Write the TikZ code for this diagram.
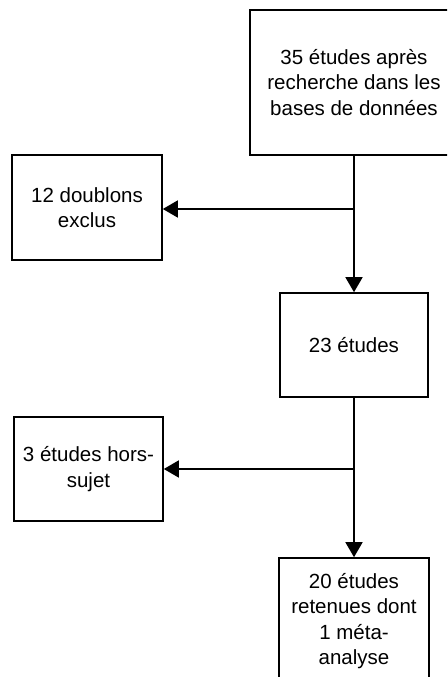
\documentclass[tikz,border=0pt]{standalone}
\usepackage{fontspec}
\setmainfont{Liberation Sans}
\usetikzlibrary{arrows.meta}

\begin{document}
\begin{tikzpicture}[x=1pt,y=-1pt,
        etape/.style={draw,rectangle,line width=1.6pt,inner sep=0pt,align=center,
            font=\fontsize{20.5}{25.5}\selectfont},
        fleche/.style={line width=1.6pt,-{Triangle[length=15pt,width=17pt]}}]

        \useasboundingbox (0,0) rectangle (447,677);
        \clip (0,0) rectangle (447,677);

        \node[etape,minimum width=208pt,minimum height=145pt] (recherche) at (354,82.5) {35 études après\\recherche dans les\\bases de données};
        \node[etape,minimum width=150pt,minimum height=105pt] (doublons) at (87,207.5) {12 doublons\\exclus};
        \node[etape,minimum width=148pt,minimum height=104pt] (etudes) at (354,345) {23 études};
        \node[etape,minimum width=149pt,minimum height=104pt] (horssujet) at (88.5,469) {3 études hors-\\sujet};
        \node[etape,minimum width=150pt,minimum height=126pt] (retenues) at (354,621) {20 études\\retenues dont\\1 méta-\\analyse};

        \coordinate (b1) at (354,209);
        \coordinate (b2) at (354,469);

        \draw[fleche] (recherche.south) -- (etudes.north);
        \draw[fleche] (b1) -- (b1 -| doublons.east);
        \draw[fleche] (etudes.south) -- (retenues.north);
        \draw[fleche] (b2) -- (b2 -| horssujet.east);
    \end{tikzpicture}
\end{document}
